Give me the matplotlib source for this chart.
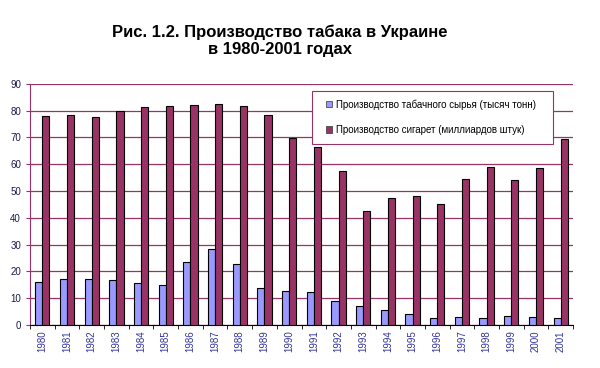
import numpy as np
import matplotlib
matplotlib.use("Agg")
import matplotlib.pyplot as plt
from matplotlib.patches import Rectangle

plt.rcParams['font.family'] = ['Liberation Sans', 'DejaVu Sans']

years = [str(y) for y in range(1980, 2002)]
raw_tobacco = [16.1, 17.2, 17.1, 16.7, 15.7, 15.0, 23.4, 28.4, 22.7, 13.7, 12.7,
               12.2, 9.0, 7.1, 5.6, 4.1, 2.6, 3.0, 2.6, 3.4, 3.0, 2.6]
cigarettes = [78.2, 78.5, 77.8, 79.8, 81.2, 81.9, 82.3, 82.6, 81.9, 78.5, 69.7,
              66.4, 57.5, 42.5, 47.5, 48.2, 45.2, 54.6, 59.1, 54.2, 58.7, 69.4]
label_raw = 'Производство табачного сырья (тысяч тонн)'
label_cig = 'Производство сигарет (миллиардов штук)'
title = 'Рис. 1.2. Производство табака в Украине\nв 1980-2001 годах'

maroon = '#993366'
blue = '#9999FF'
grid_col = '#993366'

fig = plt.figure(figsize=(6, 3.68), dpi=100)
ax = fig.add_axes([0.05, 0.117, 0.905, 0.655])

x = np.arange(len(years))
w = 0.29
ax.bar(x - w / 2, raw_tobacco, w, color=blue, edgecolor='black', linewidth=0.8,
       label=label_raw, zorder=3)
ax.bar(x + w / 2, cigarettes, w, color=maroon, edgecolor='black', linewidth=0.8,
       label=label_cig, zorder=3)

ax.set_xlim(-0.5, len(years) - 0.5)
ax.set_ylim(0, 90)
ax.set_yticks(range(0, 91, 10))
ax.yaxis.grid(True, color=grid_col, linewidth=0.9, zorder=0)
ax.set_axisbelow(True)

ax.set_xticks(x)
ax.set_xticklabels(years, rotation=90, fontsize=7, color='#333399')
ax.set_xticks(np.arange(-0.5, len(years)), minor=True)
ax.tick_params(axis='x', which='major', length=0, pad=4)
ax.tick_params(axis='x', which='minor', length=3, color='black')
ax.tick_params(axis='y', labelsize=7, length=3, color=grid_col, labelcolor='#1a1a4d')

for s in ['top', 'right']:
    ax.spines[s].set_visible(False)
ax.spines['left'].set_color(grid_col)
ax.spines['bottom'].set_color('black')

# legend box drawn separately so the side padding can be wider than the top
box = Rectangle((0.519, 0.751), 0.444, 0.22, transform=ax.transAxes,
                facecolor='white', edgecolor=grid_col, linewidth=0.8, zorder=4)
ax.add_patch(box)
leg = ax.legend(loc='upper left', bbox_to_anchor=(0.546, 0.936), fontsize=7,
                frameon=False, handlelength=0.6, handleheight=0.6,
                handletextpad=0.35, borderpad=0, labelspacing=1.55,
                borderaxespad=0)
leg.set_zorder(5)
for h in leg.legend_handles:
    h.set_edgecolor('#333333')
    h.set_linewidth(0.5)

fig.text(0.467, 0.889, title, ha='center', va='center', fontsize=12,
         fontweight='bold', linespacing=1.15)

fig.savefig('out.png', dpi=100)
